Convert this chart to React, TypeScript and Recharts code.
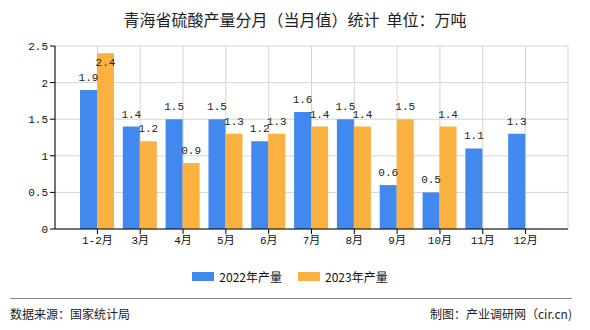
import {
  BarChart,
  Bar,
  XAxis,
  YAxis,
  CartesianGrid,
  Legend,
  LabelList,
} from "recharts";

const months = ["1-2月", "3月", "4月", "5月", "6月", "7月", "8月", "9月", "10月", "11月", "12月"];
const output2022 = [1.9, 1.4, 1.5, 1.5, 1.2, 1.6, 1.5, 0.6, 0.5, 1.1, 1.3];
const output2023 = [2.4, 1.2, 0.9, 1.3, 1.3, 1.4, 1.4, 1.5, 1.4, null, null];
const yTicks = [0, 0.5, 1, 1.5, 2, 2.5];

const data = months.map((m, i) => ({
  month: m,
  y2022: output2022[i],
  y2023: output2023[i],
}));

const BLUE = "#4189EE";
const ORANGE = "#FBB13F";
const PLOT_TOP = 46;
const monoFont = "'Liberation Mono', 'Noto Sans CJK SC', monospace";
const cjkFont = "'Noto Sans CJK SC', sans-serif";

// value label sits above the bar, pushed inside when it would run past the top
function ValueLabel(props: any) {
  const { x, y, width, value } = props;
  if (value == null) return null;
  let ty = y - 9;
  if (ty - 10 < PLOT_TOP) ty = y + 13;
  return (
    <text
      x={x + width / 2}
      y={ty}
      textAnchor="middle"
      fontSize={11}
      fontFamily={monoFont}
      fill="#222"
    >
      {Number(value).toFixed(1)}
    </text>
  );
}

function LegendContent({ payload }: any) {
  return (
    <div style={{ display: "flex", justifyContent: "center", gap: 16, height: 20, alignItems: "center", paddingLeft: 12 }}>
      {(payload || []).map((p: any) => (
        <div key={p.value} style={{ display: "flex", alignItems: "center" }}>
          <span style={{ width: 22, height: 9, background: p.color, marginRight: 5, display: "inline-block" }} />
          <span style={{ fontSize: 12, fontFamily: cjkFont, color: "#111" }}>{p.value}</span>
        </div>
      ))}
    </div>
  );
}

export default function App() {
  return (
    <div style={{ position: "absolute", left: 0, top: 0, width: 590, height: 330, background: "#fff" }}>
      <div
        style={{
          position: "absolute",
          top: 7,
          width: 590,
          textAlign: "center",
          fontSize: 16,
          fontFamily: cjkFont,
          color: "#222",
          whiteSpace: "pre",
        }}
      >
        {"青海省硫酸产量分月（当月值）统计  单位：万吨"}
      </div>
      <BarChart
        width={590}
        height={330}
        data={data}
        margin={{ top: PLOT_TOP, right: 22, left: 0, bottom: 44 }}
        barCategoryGap={4}
        barGap={0}
      >
        <CartesianGrid stroke="#d4d4d4" />
        <XAxis
          dataKey="month"
          height={37}
          padding={{ left: 21, right: 21 }}
          axisLine={{ stroke: "#000" }}
          tickLine={{ stroke: "#000" }}
          tickSize={5}
          tick={{ fontSize: 11, fontFamily: monoFont, fill: "#111" }}
          interval={0}
        />
        <YAxis
          width={55}
          domain={[0, 2.5]}
          ticks={yTicks}
          axisLine={{ stroke: "#000" }}
          tickLine={{ stroke: "#000" }}
          tickSize={5}
          tick={{ fontSize: 11, fontFamily: monoFont, fill: "#111" }}
        />
        <YAxis
          yAxisId="edge"
          orientation="right"
          width={0}
          tick={false}
          tickLine={false}
          axisLine={{ stroke: "#d4d4d4" }}
        />
        <Legend verticalAlign="bottom" content={<LegendContent />} />
        <Bar dataKey="y2022" name="2022年产量" fill={BLUE} isAnimationActive={false}>
          <LabelList dataKey="y2022" content={<ValueLabel />} />
        </Bar>
        <Bar dataKey="y2023" name="2023年产量" fill={ORANGE} isAnimationActive={false}>
          <LabelList dataKey="y2023" content={<ValueLabel />} />
        </Bar>
      </BarChart>
      <div style={{ position: "absolute", left: 10, top: 298, width: 562, borderTop: "1px solid #888" }} />
      <div style={{ position: "absolute", left: 10, top: 305, fontSize: 12, fontFamily: cjkFont, color: "#222" }}>
        数据来源：国家统计局
      </div>
      <div
        style={{
          position: "absolute",
          right: 18,
          top: 305,
          fontSize: 12,
          fontFamily: cjkFont,
          color: "#222",
          whiteSpace: "pre",
        }}
      >
        制图：产业调研网（cir.cn)
      </div>
    </div>
  );
}
